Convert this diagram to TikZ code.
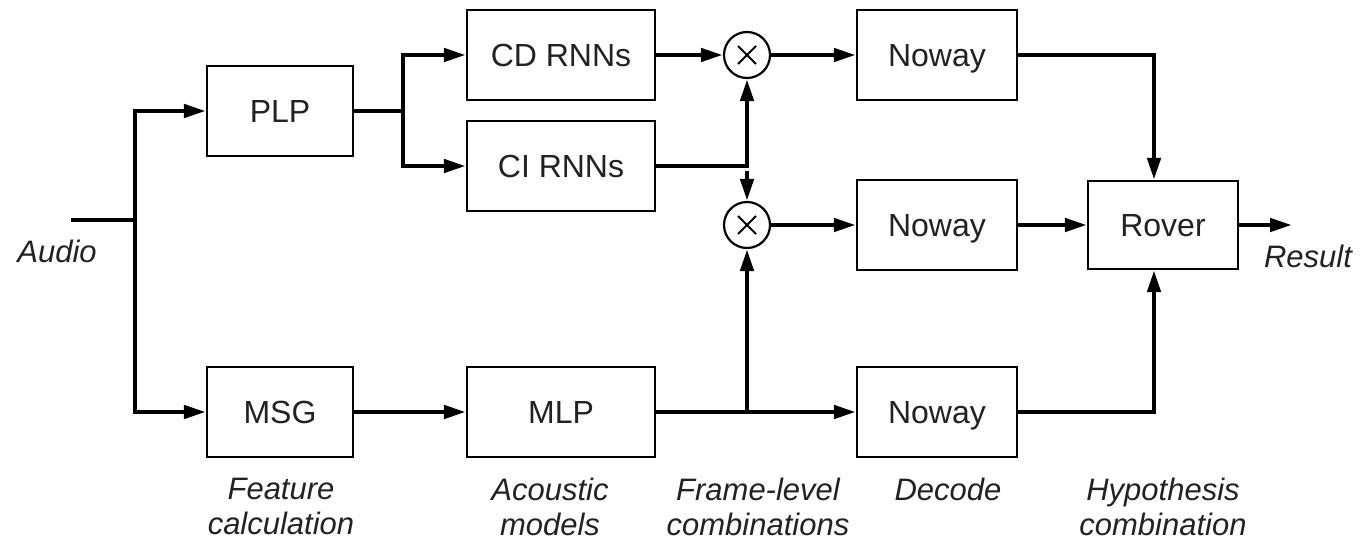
\documentclass[tikz,border=0pt]{standalone}
\usepackage{fontspec}
\setmainfont{Liberation Sans}
\usetikzlibrary{arrows.meta,calc}
\definecolor{ink}{RGB}{34,34,34}
\begin{document}
\begin{tikzpicture}[x=1pt,y=-1pt,
  block/.style={draw, line width=2.2pt, fill=white, minimum height=90pt, inner sep=0pt,
    text=ink, text depth=0pt, font=\fontsize{32}{38}\selectfont},
  narrow/.style={block, minimum width=146pt},
  wide/.style={block, minimum width=188pt},
  decoder/.style={block, minimum width=160pt},
  mult/.style={circle, draw, line width=2.2pt, minimum size=46pt, inner sep=0pt, fill=white,
    path picture={\draw[line width=1.8pt]
      ([shift={(-9pt,-9pt)}]path picture bounding box.center) -- ([shift={(9pt,9pt)}]path picture bounding box.center)
      ([shift={(-9pt,9pt)}]path picture bounding box.center) -- ([shift={(9pt,-9pt)}]path picture bounding box.center);}},
  wire/.style={line width=4.5pt, line join=miter},
  arr/.style={wire, -{Triangle[length=22pt,width=13pt]}},
  caption/.style={font=\fontsize{31}{35}\selectfont\itshape, text=ink, align=center, inner sep=0pt}
]
\useasboundingbox (0,0) rectangle (1363,541);

% processing blocks
\node[narrow]  (plp)   at (280,111) {PLP};
\node[narrow]  (msg)   at (280,412) {MSG};
\node[wide]    (cd)    at (561,55)  {CD RNNs};
\node[wide]    (ci)    at (561,166) {CI RNNs};
\node[wide]    (mlp)   at (561,412) {MLP};
\node[mult]    (m1)    at (747,55)  {};
\node[mult]    (m2)    at (747,225) {};
\node[decoder] (nw1)   at (937,55)  {Noway};
\node[decoder] (nw2)   at (937,225) {Noway};
\node[decoder] (nw3)   at (937,412) {Noway};
\node[block, minimum width=150pt, minimum height=88pt] (rover) at (1163,225) {Rover};

% junction points and free ends
\coordinate (ain)    at (71,220);
\coordinate (asplit) at (135,220);
\coordinate (psplit) at (403,111);
\coordinate (cidown) at (747,171);
\coordinate (msplit) at (747,412);
\coordinate (rcol)   at (1154,0);
\coordinate (res)    at (1292,225);

% input fan-out
\draw[wire] (ain) -- (asplit);
\draw[arr] (asplit) |- (plp.west);
\draw[arr] (asplit) |- (msg.west);

% PLP to the recurrent nets
\draw[wire] (plp.east) -- (psplit);
\draw[arr] (psplit) |- (cd.west);
\draw[arr] (psplit) |- (ci.west);

% MSG to MLP
\draw[arr] (msg.east) -- (mlp.west);

% frame-level combinations
\draw[arr] (cd.east) -- (m1.west);
\draw[arr] (ci.east) -| (m1.south);
\draw[arr] (cidown) -- (m2.north);
\draw[arr] (mlp.east) -- (nw3.west);
\draw[arr] (msplit) -- (m2.south);

% decoding
\draw[arr] (m1.east) -- (nw1.west);
\draw[arr] (m2.east) -- (nw2.west);

% hypothesis combination
\draw[arr] (nw1.east) -| (rover.north -| rcol);
\draw[arr] (nw2.east) -- (rover.west);
\draw[arr] (nw3.east) -| (rover.south -| rcol);
\draw[arr] (rover.east) -- (res);

% input and output labels
\node[caption, anchor=base] (audio)  at (57,262)   {Audio};
\node[caption, anchor=base] (result) at (1308,267) {Result};

% stage captions
\node[caption, anchor=north] (cap1) at (281,478)  {Feature\\calculation};
\node[caption, anchor=north] (cap2) at (550,478)  {Acoustic\\models};
\node[caption, anchor=north] (cap3) at (758,478)  {Frame-level\\combinations};
\node[caption, anchor=north] (cap4) at (948,478)  {Decode};
\node[caption, anchor=north] (cap5) at (1163,478) {Hypothesis\\combination};
\end{tikzpicture}
\end{document}
